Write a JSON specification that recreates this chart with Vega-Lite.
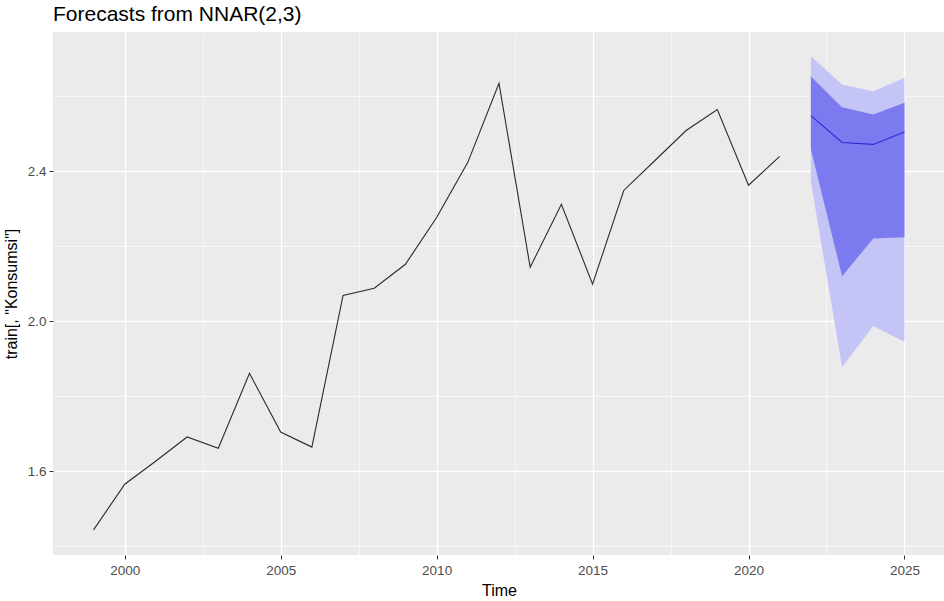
{
  "$schema": "https://vega.github.io/schema/vega-lite/v6.json",
  "width": 892,
  "height": 523,
  "autosize": {"type": "none"},
  "padding": {"left": 53, "top": 32, "right": 0, "bottom": 46},
  "background": "white",
  "title": {
    "text": "Forecasts from NNAR(2,3)",
    "anchor": "start",
    "frame": "group",
    "font": "Liberation Sans",
    "fontSize": 21,
    "fontWeight": "normal",
    "color": "black",
    "offset": 7
  },
  "config": {
    "view": {"fill": "#ebebeb", "stroke": null},
    "axis": {
      "domain": false,
      "gridColor": "white",
      "labelFont": "Liberation Sans",
      "labelFontSize": 13.5,
      "labelColor": "#4d4d4d",
      "tickColor": "#333333",
      "tickWidth": 1,
      "titleFont": "Liberation Sans",
      "titleFontSize": 16,
      "titleFontWeight": "normal",
      "titleColor": "black"
    }
  },
  "datasets": {
    "hist": [
      {"year": 1999, "value": 1.443},
      {"year": 2000, "value": 1.565},
      {"year": 2001, "value": 1.627},
      {"year": 2002, "value": 1.691},
      {"year": 2003, "value": 1.661},
      {"year": 2004, "value": 1.861},
      {"year": 2005, "value": 1.704},
      {"year": 2006, "value": 1.664},
      {"year": 2007, "value": 2.069},
      {"year": 2008, "value": 2.088},
      {"year": 2009, "value": 2.152},
      {"year": 2010, "value": 2.277},
      {"year": 2011, "value": 2.424},
      {"year": 2012, "value": 2.635},
      {"year": 2013, "value": 2.144},
      {"year": 2014, "value": 2.312},
      {"year": 2015, "value": 2.099},
      {"year": 2016, "value": 2.349},
      {"year": 2017, "value": 2.429},
      {"year": 2018, "value": 2.509},
      {"year": 2019, "value": 2.565},
      {"year": 2020, "value": 2.363},
      {"year": 2021, "value": 2.44}
    ],
    "fc": [
      {"year": 2022, "mean": 2.549, "lo80": 2.459, "hi80": 2.653, "lo95": 2.373, "hi95": 2.707},
      {"year": 2023, "mean": 2.477, "lo80": 2.12, "hi80": 2.571, "lo95": 1.877, "hi95": 2.632},
      {"year": 2024, "mean": 2.472, "lo80": 2.221, "hi80": 2.552, "lo95": 1.987, "hi95": 2.613},
      {"year": 2025, "mean": 2.505, "lo80": 2.224, "hi80": 2.583, "lo95": 1.945, "hi95": 2.65}
    ]
  },
  "encoding": {
    "x": {
      "field": "year",
      "type": "quantitative",
      "scale": {"domain": [1997.7, 2026.3], "nice": false, "zero": false},
      "axis": {
        "title": "Time",
        "values": [2000, 2002.5, 2005, 2007.5, 2010, 2012.5, 2015, 2017.5, 2020, 2022.5, 2025],
        "format": "d",
        "labelExpr": "datum.value % 5 === 0 ? datum.label : ''",
        "tickSize": 4,
        "tickOpacity": {"condition": {"test": "datum.value % 5 !== 0", "value": 0}, "value": 1},
        "gridWidth": {"condition": {"test": "datum.value % 5 !== 0", "value": 0.6}, "value": 1.3},
        "labelPadding": 4,
        "titlePadding": 6,
        "labelFlush": false,
        "labelOverlap": false
      }
    }
  },
  "layer": [
    {
      "data": {"name": "fc"},
      "mark": {"type": "area", "color": "#c4c4f6", "opacity": 1},
      "encoding": {
        "y": {
          "field": "lo95",
          "type": "quantitative",
          "scale": {"domain": [1.376, 2.772], "nice": false, "zero": false},
          "axis": {
            "title": "train[, \"Konsumsi\"]",
            "values": [1.4, 1.6, 1.8, 2.0, 2.2, 2.4, 2.6],
            "format": ".1f",
            "labelExpr": "abs(datum.value / 0.4 - round(datum.value / 0.4)) < 0.001 ? datum.label : ''",
            "tickSize": 4,
            "tickOpacity": {"condition": {"test": "abs(datum.value / 0.4 - round(datum.value / 0.4)) > 0.001", "value": 0}, "value": 1},
            "gridWidth": {"condition": {"test": "abs(datum.value / 0.4 - round(datum.value / 0.4)) > 0.001", "value": 0.6}, "value": 1.3},
            "labelPadding": 3,
            "titlePadding": 8,
            "labelFlush": false,
            "labelOverlap": false
          }
        },
        "y2": {"field": "hi95"}
      }
    },
    {
      "data": {"name": "fc"},
      "mark": {"type": "area", "color": "#7b7bef", "opacity": 1},
      "encoding": {
        "y": {"field": "lo80", "type": "quantitative", "title": "train[, \"Konsumsi\"]"},
        "y2": {"field": "hi80"}
      }
    },
    {
      "data": {"name": "fc"},
      "mark": {"type": "line", "color": "#2a2ad8", "strokeWidth": 1.1},
      "encoding": {
        "y": {"field": "mean", "type": "quantitative", "title": "train[, \"Konsumsi\"]"}
      }
    },
    {
      "data": {"name": "hist"},
      "mark": {"type": "line", "color": "#2b2b2b", "strokeWidth": 1.1},
      "encoding": {
        "y": {"field": "value", "type": "quantitative", "title": "train[, \"Konsumsi\"]"}
      }
    }
  ]
}
